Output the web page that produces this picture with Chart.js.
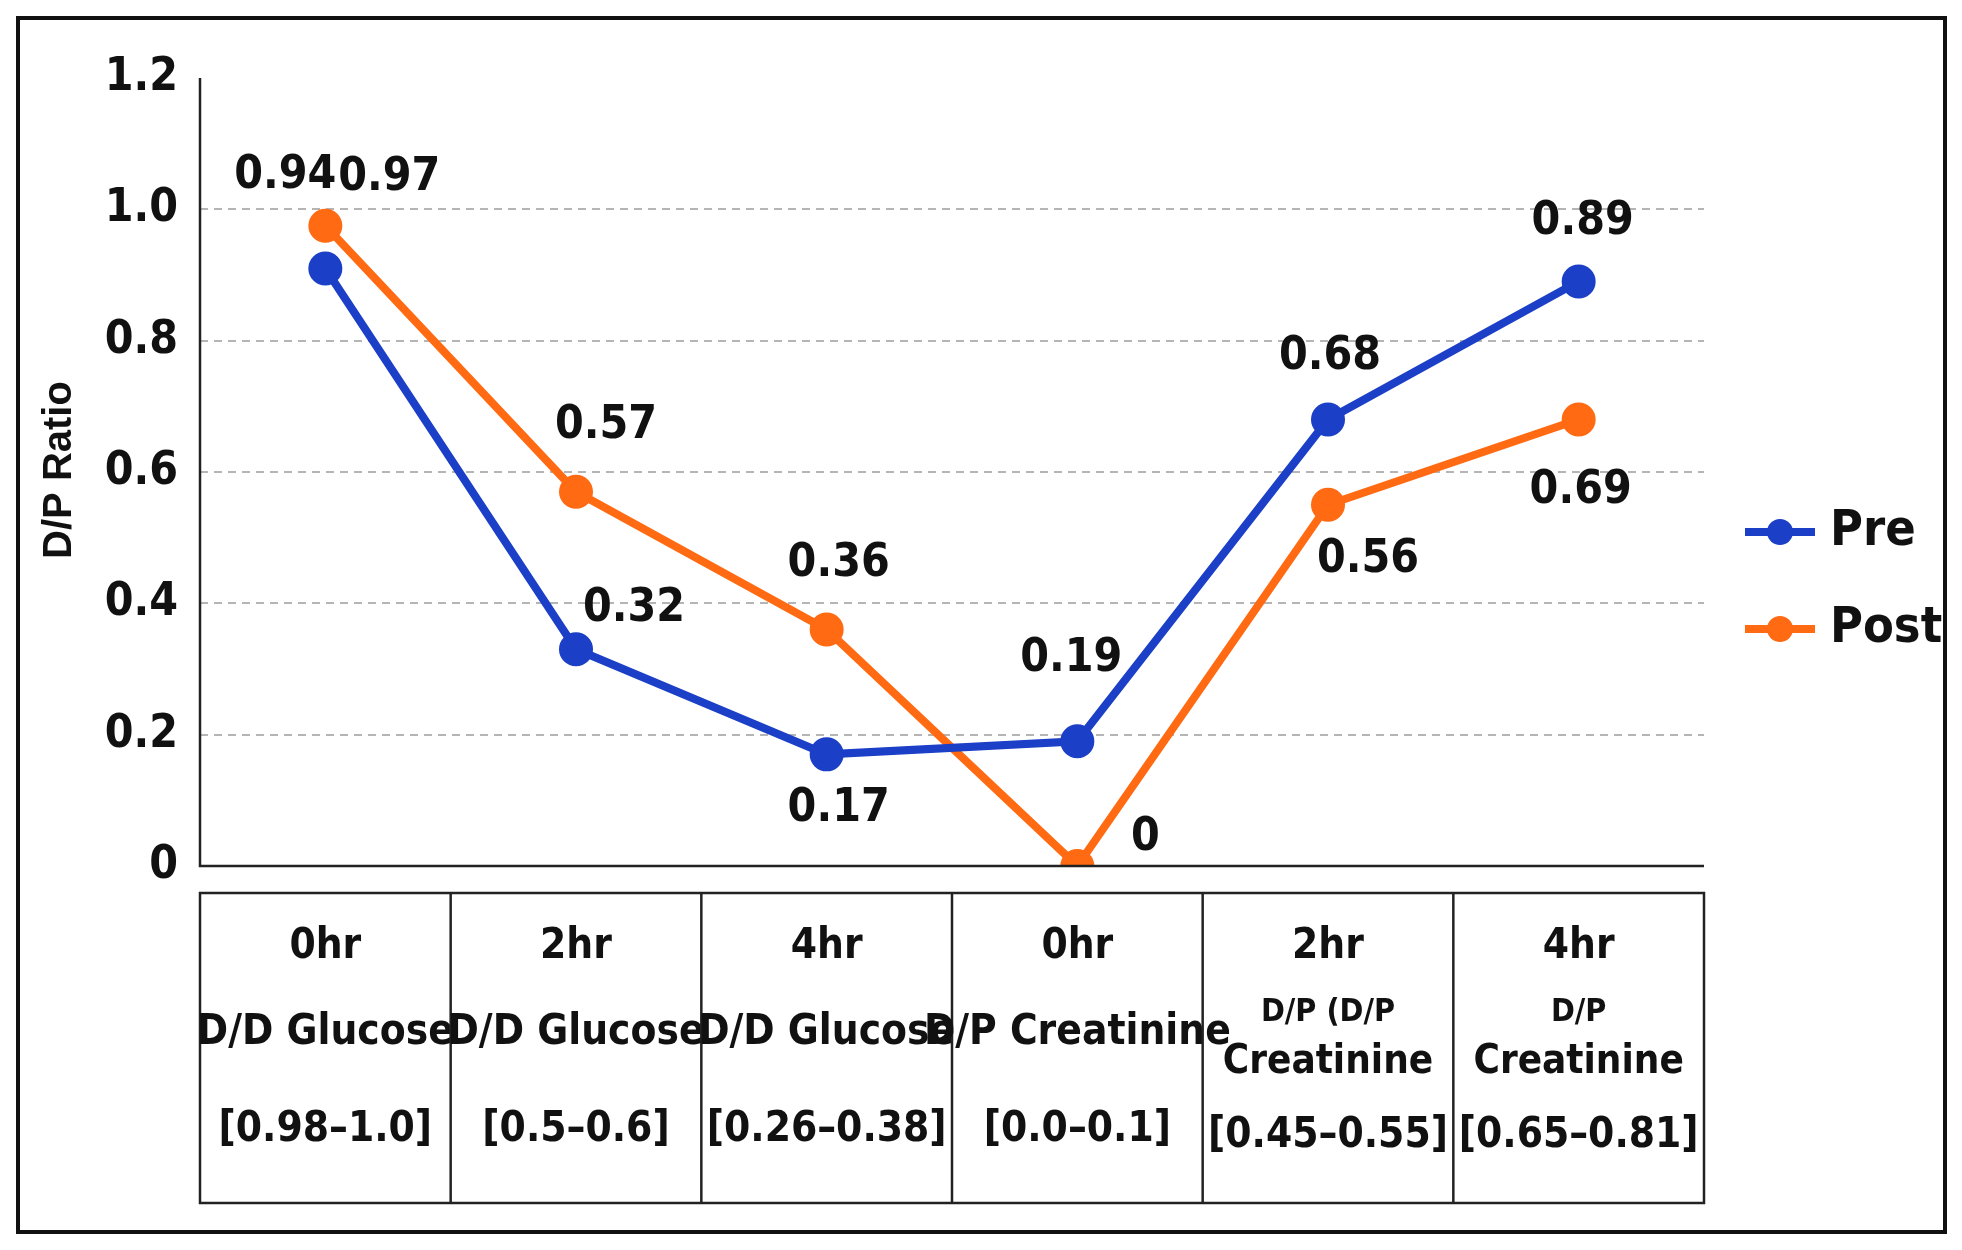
<!DOCTYPE html>
<html>
<head>
<meta charset="utf-8">
<script src="https://cdn.jsdelivr.net/npm/chart.js@4"></script>
<style>
  html, body { margin: 0; padding: 0; background: #fff; }
  #wrap { width: 1962px; height: 1250px; position: relative; }
</style>
</head>
<body>
<div id="wrap"><canvas id="dpChart" width="1962" height="1250"></canvas></div>
<script>
const categories = ["0hr D/D Glucose", "2hr D/D Glucose", "4hr D/D Glucose", "0hr D/P Creatinine", "2hr D/P Creatinine", "4hr D/P Creatinine"];
const preValues = [0.91, 0.33, 0.17, 0.19, 0.68, 0.89];
const postValues = [0.975, 0.57, 0.36, 0.0, 0.55, 0.68];
const preLabels = ["0.94", "0.32", "0.17", "0.19", "0.68", "0.89"];
const postLabels = ["0.97", "0.57", "0.36", "0", "0.56", "0.69"];
const yTicks = [0, 0.2, 0.4, 0.6, 0.8, 1.0, 1.2];
// table rows under the axis
const tableTop = ["0hr", "2hr", "4hr", "0hr", "2hr", "4hr"];
const tableMid = [["D/D Glucose"], ["D/D Glucose"], ["D/D Glucose"], ["D/P Creatinine"], ["D/P (D/P", "Creatinine"], ["D/P", "Creatinine"]];
const tableRange = ["[0.98\u20131.0]", "[0.5\u20130.6]", "[0.26\u20130.38]", "[0.0\u20130.1]", "[0.45\u20130.55]", "[0.65\u20130.81]"];

const BLUE = "#1b3fc6", ORANGE = "#ff6a12";
const FONT = "'Liberation Sans Narrow', 'DejaVu Sans Condensed', sans-serif";
// label offsets (px) from each point
const preOff = [[-40, -92], [58, -40], [12, 55], [-6, -82], [2, -62], [4, -60]];
const postOff = [[64, -48], [30, -66], [12, -66], [68, -28], [40, 55], [2, 72]];

const overlay = {
  id: "overlay",
  afterDraw(chart) {
    const ctx = chart.ctx, x = chart.scales.x, y = chart.scales.y, a = chart.chartArea;
    ctx.save();
    // frame
    ctx.strokeStyle = "#111"; ctx.lineWidth = 4;
    ctx.strokeRect(18, 18, 1927, 1214);
    // axes
    ctx.lineWidth = 2.5; ctx.strokeStyle = "#222";
    ctx.beginPath(); ctx.moveTo(a.left, y.getPixelForValue(1.2)); ctx.lineTo(a.left, a.bottom); ctx.lineTo(a.right, a.bottom); ctx.stroke();
    // y title
    ctx.save();
    ctx.translate(60, 470); ctx.rotate(-Math.PI / 2);
    ctx.fillStyle = "#111"; ctx.font = "bold 40px 'Liberation Sans', Arial, sans-serif";
    ctx.textAlign = "center"; ctx.textBaseline = "middle";
    ctx.fillText("D/P Ratio", 0, 0);
    ctx.restore();
    // data labels
    ctx.fillStyle = "#111"; ctx.font = "bold 46px " + FONT; ctx.textAlign = "center"; ctx.textBaseline = "middle";
    [[0, preLabels, preOff], [1, postLabels, postOff]].forEach(([di, labs, off]) => {
      chart.getDatasetMeta(di).data.forEach((p, i) => ctx.fillText(labs[i], p.x + off[i][0], p.y + off[i][1]));
    });
    // table
    const top = 893, bot = 1203, half = (x.getPixelForValue(1) - x.getPixelForValue(0)) / 2;
    ctx.lineWidth = 2.5;
    ctx.strokeRect(a.left, top, a.right - a.left, bot - top);
    categories.forEach((c, i) => {
      const cx = x.getPixelForValue(i);
      if (i > 0) { ctx.beginPath(); ctx.moveTo(cx - half, top); ctx.lineTo(cx - half, bot); ctx.stroke(); }
      ctx.font = "bold 42px " + FONT;
      ctx.fillText(tableTop[i], cx, 947);
      const mid = tableMid[i];
      if (mid.length === 1) {
        ctx.fillText(mid[0], cx, 1033);
      } else {
        ctx.font = "bold 32px " + FONT; ctx.fillText(mid[0], cx, 1013);
        ctx.font = "bold 40px " + FONT; ctx.fillText(mid[1], cx, 1063);
      }
      ctx.font = "bold 42px " + FONT;
      ctx.fillText(tableRange[i], cx, mid.length === 1 ? 1130 : 1136);
    });
    // legend
    [[BLUE, "Pre", 532], [ORANGE, "Post", 629]].forEach(([col, t, ly]) => {
      ctx.strokeStyle = col; ctx.fillStyle = col; ctx.lineWidth = 8;
      ctx.beginPath(); ctx.moveTo(1745, ly); ctx.lineTo(1815, ly); ctx.stroke();
      ctx.beginPath(); ctx.arc(1780, ly, 13, 0, Math.PI * 2); ctx.fill();
      ctx.fillStyle = "#111"; ctx.font = "bold 50px " + FONT; ctx.textAlign = "left";
      ctx.fillText(t, 1830, ly);
      ctx.textAlign = "center";
    });
    ctx.restore();
  }
};

new Chart(document.getElementById("dpChart").getContext("2d"), {
  type: "line",
  data: {
    labels: categories,
    datasets: [
      { label: "Pre", data: preValues, borderColor: BLUE, backgroundColor: BLUE, borderWidth: 8, pointRadius: 13, tension: 0 },
      { label: "Post", data: postValues, borderColor: ORANGE, backgroundColor: ORANGE, borderWidth: 8, pointRadius: 13, tension: 0 }
    ]
  },
  options: {
    responsive: false,
    animation: false,
    layout: { padding: { left: 100, right: 258, top: 78, bottom: 384 } },
    plugins: { legend: { display: false }, tooltip: { enabled: false } },
    scales: {
      x: { type: "category", offset: true, display: false },
      y: {
        min: 0, max: 1.2,
        afterFit: s => { s.width = 100; },
        afterBuildTicks: s => { s.ticks = yTicks.map(v => ({ value: v })); },
        grid: {
          drawTicks: false,
          color: c => (c.tick.value > 0 && c.tick.value < 1.2) ? "#b5b5b5" : "rgba(0,0,0,0)",
          lineWidth: 2
        },
        border: { display: false, dash: [8, 6] },
        ticks: {
          padding: 22, color: "#111",
          font: { family: FONT, size: 46, weight: "bold" },
          callback: v => v === 0 ? "0" : v.toFixed(1)
        },
        title: { display: false }
      }
    }
  },
  plugins: [overlay]
});
</script>
</body>
</html>
